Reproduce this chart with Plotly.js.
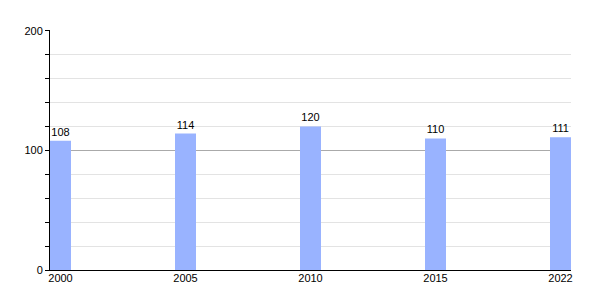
<!DOCTYPE html>
<html>
<head>
<meta charset="utf-8">
<script src="https://cdn.plot.ly/plotly-3.0.1.min.js"></script>
<style>html,body{margin:0;padding:0;background:#fff;}#chart{width:600px;height:300px;}</style>
</head>
<body>
<div id="chart"></div>
<script>
const years = ["2000", "2005", "2010", "2015", "2022"];
const values = [108, 114, 120, 110, 111];
const yTickVals = [0, 100, 200];

const xIdx = years.map((_, i) => i);

Plotly.newPlot('chart', [{
  type: 'bar',
  x: xIdx,
  y: values,
  width: 0.168,
  text: values.map(String),
  textposition: 'outside',
  cliponaxis: false,
  textfont: {family: 'Liberation Sans, Arial, sans-serif', size: 11, color: '#000'},
  marker: {color: '#99b3ff'},
  hoverinfo: 'none'
}], {
  width: 600, height: 300,
  margin: {l: 50, r: 29, t: 30, b: 30},
  paper_bgcolor: '#fff', plot_bgcolor: '#fff',
  showlegend: false,
  font: {family: 'Liberation Sans, Arial, sans-serif', size: 11, color: '#000'},
  xaxis: {
    range: [-0.084, 4.084],
    tickmode: 'array', tickvals: xIdx, ticktext: years,
    showgrid: false, zeroline: false,
    showline: true, linecolor: '#000', linewidth: 1,
    ticks: '', ticklen: 0,
    ticklabelstandoff: -2,
    tickfont: {size: 11}
  },
  yaxis: {
    range: [0, 200.6],
    tickmode: 'array', tickvals: yTickVals,
    showgrid: true, gridcolor: '#aaaaaa', gridwidth: 1,
    zeroline: false,
    showline: true, linecolor: '#000', linewidth: 1,
    ticks: 'outside', ticklen: 4, tickcolor: '#000',
    tickfont: {size: 11},
    minor: {dtick: 20, showgrid: true, gridcolor: '#e3e3e3', ticks: 'outside', ticklen: 4, tickcolor: '#000'}
  }
}, {staticPlot: true, displayModeBar: false});
</script>
</body>
</html>
